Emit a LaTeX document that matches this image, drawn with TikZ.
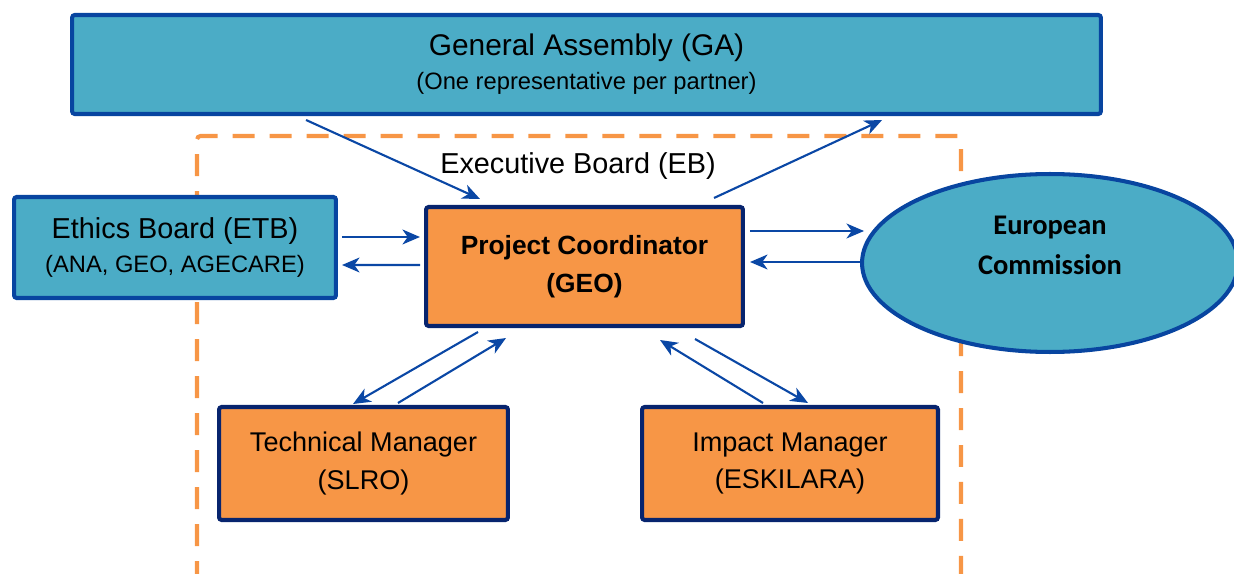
\documentclass[tikz,border=0pt]{standalone}
\usepackage{fontspec}
\setmainfont{Liberation Sans}
\newfontfamily\calibri{Carlito}
\usetikzlibrary{arrows.meta,shapes.geometric,calc}

\definecolor{boxblue}{HTML}{4BACC6}
\definecolor{boxorange}{HTML}{F79646}
\definecolor{lineblue}{HTML}{0845A0}
\definecolor{navy}{HTML}{07246E}
\definecolor{arrowblue}{HTML}{0A47A5}

\begin{document}
\begin{tikzpicture}[x=0.02cm,y=-0.02cm,>={Stealth[length=10pt,width=8.5pt,inset=3pt]},
  blue box/.style={rectangle,fill=boxblue,draw=lineblue,line width=2.3pt,rounded corners=1.5pt,inner sep=0pt,align=center},
  orange box/.style={rectangle,fill=boxorange,draw=navy,line width=2.3pt,rounded corners=1.5pt,inner sep=0pt,align=center,
    font=\fontsize{15.4}{21.5}\selectfont},
  link/.style={->,color=arrowblue,line width=1.2pt}]

  \useasboundingbox (0,0) rectangle (1234,574);

  % executive board frame
  \draw[boxorange,line width=2.3pt,dash pattern=on 0.44cm off 0.3cm,rounded corners=2pt]
    (197,620) -- (197,136) -- (961,136) -- (961,620);
  \node[font=\fontsize{16.4}{19}\selectfont] (eb) at (578,166) {Executive Board (EB)};

  \node[blue box,minimum width=20.58cm,minimum height=1.98cm,font=\fontsize{17}{19.3}\selectfont] (ga) at (586.5,64.5)
    {General Assembly (GA)\\{\fontsize{13.5}{19.3}\selectfont (One representative per partner)}};
  \node[blue box,minimum width=6.44cm,minimum height=2.02cm,font=\fontsize{16.4}{19.3}\selectfont] (etb) at (175,247.5)
    {Ethics Board (ETB)\\{\fontsize{13.5}{19.3}\selectfont (ANA, GEO, AGECARE)}};
  \node[orange box,minimum width=6.34cm,minimum height=2.38cm,font=\fontsize{15}{21.5}\selectfont\bfseries] (pc) at (584.5,266.5)
    {Project Coordinator\\(GEO)};
  \node[ellipse,fill=boxblue,draw=lineblue,line width=2.3pt,inner sep=0pt,minimum width=7.52cm,minimum height=3.56cm] (ec) at (1050,263) {};
  \node[align=center,font=\calibri\bfseries\fontsize{16.2}{22.7}\selectfont] (ectext) at ($(ec)+(0,-18)$) {European\\Commission};
  \node[orange box,minimum width=5.78cm,minimum height=2.26cm] (tm) at (363.5,463.5) {Technical Manager\\(SLRO)};
  \node[orange box,minimum width=5.92cm,minimum height=2.26cm] (im) at (790,463.5) {Impact Manager\\(ESKILARA)};

  \path[link]
    ($(ga.south west)+(236,4)$) edge ($(pc.north west)+(56,-6)$)
    ($(pc.north west)+(290,-7)$) edge ($(ga.south west)+(812,4)$)
    ($(etb.east)+(4,-10.5)$) edge ($(pc.west)+(-4,-29.5)$)
    ($(pc.west)+(-4,-1.5)$) edge ($(etb.east)+(4,17.5)$)
    ($(pc.east)+(5,-35.5)$) edge ($(ec.west)+(4,-32)$)
    ($(ec.west)+(0,-1)$) edge ($(pc.east)+(5,-4.5)$)
    ($(pc.south west)+(54,4)$) edge ($(tm.north west)+(136,-1)$)
    ($(tm.north west)+(181,-2)$) edge ($(pc.south west)+(82,10)$)
    ($(pc.south west)+(271,11)$) edge ($(im.north west)+(168,-2)$)
    ($(im.north west)+(123,-2)$) edge ($(pc.south west)+(236,12)$)
    ;
\end{tikzpicture}
\end{document}
